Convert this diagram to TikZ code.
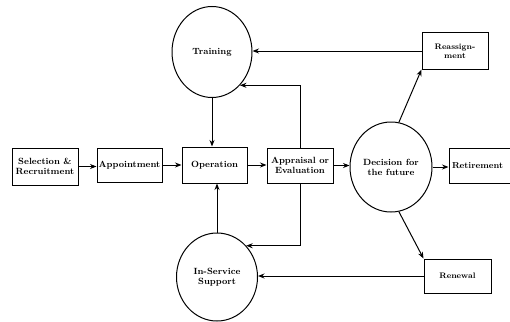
\documentclass[tikz,border=0pt]{standalone}
\usetikzlibrary{shapes.geometric,arrows.meta}
\begin{document}
\begin{tikzpicture}[x=1pt,y=-1pt,
  every node/.style={font=\fontsize{9}{10}\selectfont\bfseries, align=center, inner sep=0.5pt},
  boxn/.style={draw, line width=1pt, rectangle},
  elln/.style={draw, line width=1pt, ellipse, inner sep=0pt},
  conn/.style={line width=1pt, -{Stealth[length=6.5pt,width=5pt]}}]
\useasboundingbox (0,0) rectangle (510,321);
\node[boxn, minimum width=66pt, minimum height=37pt] (sel) at (45,166.5) {Selection \&\\Recruitment};
\node[boxn, minimum width=65pt, minimum height=34pt] (app) at (129.5,165) {Appointment};
\node[boxn, minimum width=65pt, minimum height=36pt] (op) at (214.5,165) {Operation};
\node[boxn, minimum width=66pt, minimum height=35pt] (apr) at (300,165.5) {Appraisal or\\Evaluation};
\node[elln, minimum width=82pt, minimum height=90pt] (dec) at (391,167) {Decision for\\the future};
\node[boxn, minimum width=74pt, minimum height=35pt, text width=68pt, align=left, font=\fontsize{8.7}{10}\selectfont\bfseries] (ret) at (486,165.5) {Retirement};
\node[elln, minimum width=80pt, minimum height=91pt] (tr) at (212,52) {Training};
\node[elln, minimum width=81pt, minimum height=88pt] (ins) at (217,277) {In-Service\\Support};
\node[boxn, minimum width=66pt, minimum height=36pt, font=\fontsize{8}{9}\selectfont\bfseries] (rea) at (455,51) {Reassign-\\ment};
\node[boxn, minimum width=67pt, minimum height=34pt, font=\fontsize{8}{9}\selectfont\bfseries] (ren) at (457.5,276) {Renewal};
\draw[conn] (sel.east) -- (sel.east -| app.west);
\draw[conn] (app.east) -- (app.east -| op.west);
\draw[conn] (op.east) -- (op.east -| apr.west);
\draw[conn] (apr.east) -- (apr.east -| dec.west);
\draw[conn] (dec.east) -- (dec.east -| ret.west);
\draw[conn] (tr.south) -- (tr.south |- op.north);
\draw[conn] (ins.north) -- (ins.north |- op.south);
\draw[conn] (apr.north) |- (tr.-50);
\draw[conn] (apr.south) |- (ins.47);
\draw[conn] (rea.west) -- (rea.west -| tr.east);
\draw[conn] (ren.west) -- (ren.west -| ins.east);
\draw[conn] (dec.80) -- (rea.south west);
\draw[conn] (dec.-80) -- (ren.north west);
\end{tikzpicture}
\end{document}
